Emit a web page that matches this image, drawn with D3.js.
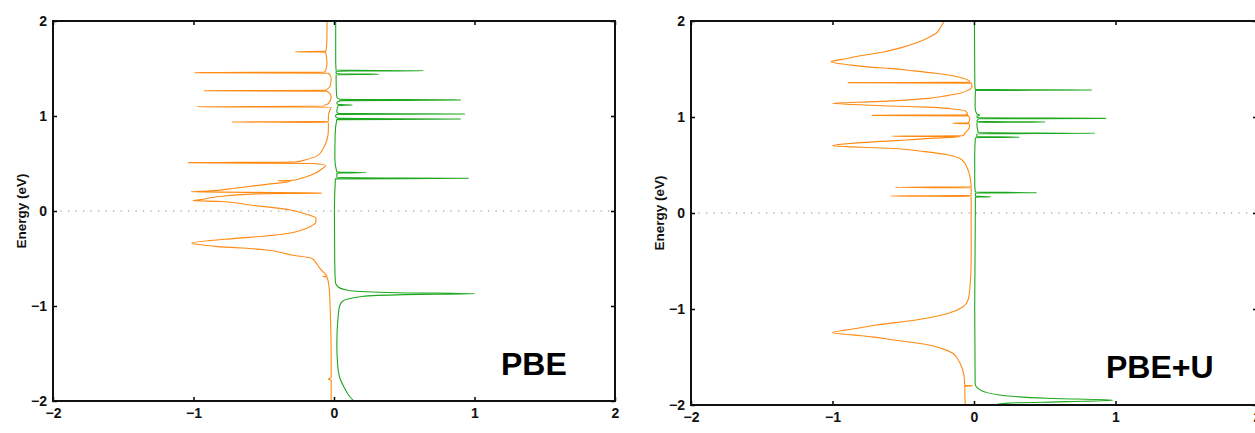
<!DOCTYPE html>
<html>
<head>
<meta charset="utf-8">
<script src="https://cdn.jsdelivr.net/npm/d3@7"></script>
<style>
  body { margin: 0; background: #fff; }
  svg text { font-family: "Liberation Sans", Arial, sans-serif; font-weight: bold; }
</style>
</head>
<body>
<svg id="chart" width="1255" height="433"></svg>
<script>
// energies on y, density of states on x ( [energy, dos] )
var ticks = [-2, -1, 0, 1, 2];
var yTitle = "Energy (eV)";
var panelNames = ["PBE", "PBE+U"];

// PBE, spin down (orange)
var pbeDown = [
  [2.00,-0.05],[1.85,-0.05],[1.70,-0.055],
  [1.682,-0.06],[1.677,-0.277],[1.672,-0.06],
  [1.55,-0.05],[1.48,-0.06],
  [1.462,-0.07],[1.456,-0.99],[1.450,-0.04],
  [1.40,-0.02],[1.32,-0.025],[1.28,-0.05],
  [1.270,-0.06],[1.266,-0.923],[1.261,-0.05],
  [1.20,-0.02],[1.13,-0.04],[1.110,-0.07],
  [1.102,-0.07],[1.098,-0.975],[1.093,-0.02],
  [1.06,-0.03],[1.00,-0.04],
  [0.942,-0.04],[0.937,-0.728],[0.932,-0.04],
  [0.85,-0.04],[0.75,-0.05],[0.65,-0.08],[0.58,-0.12],[0.54,-0.2],
  [0.515,-0.28],[0.509,-1.037],[0.500,-0.15],
  [0.48,-0.06],[0.44,-0.09],[0.40,-0.13],[0.35,-0.22],
  [0.324,-0.29],[0.319,-0.40],[0.314,-0.31],
  [0.28,-0.48],[0.24,-0.71],[0.21,-0.9],[0.203,-1.017],[0.196,-0.6],
  [0.188,-0.09],[0.183,-0.5],
  [0.15,-0.83],[0.12,-0.95],[0.109,-1.006],[0.10,-0.8],
  [0.063,-0.6],[0.03,-0.4],[0.011,-0.31],[-0.024,-0.22],[-0.077,-0.128],[-0.12,-0.13],
  [-0.165,-0.17],[-0.20,-0.23],[-0.235,-0.32],[-0.265,-0.5],[-0.288,-0.7],[-0.34,-1.013],
  [-0.36,-0.92],[-0.375,-0.83],[-0.39,-0.65],
  [-0.411,-0.48],[-0.44,-0.37],[-0.463,-0.3],[-0.498,-0.16],[-0.54,-0.13],[-0.586,-0.11],[-0.68,-0.053],
  [-0.685,-0.05],[-0.69,-0.08],[-0.695,-0.05],
  [-0.8,-0.035],[-1.0,-0.028],[-1.3,-0.022],[-1.6,-0.02],[-1.75,-0.02],
  [-1.77,-0.04],[-1.78,-0.02],[-2.0,-0.02]
];

// PBE, spin up (green)
var pbeUp = [
  [2.0,0.012],[1.6,0.012],[1.50,0.014],
  [1.482,0.015],[1.477,0.636],[1.472,0.015],
  [1.444,0.015],[1.439,0.32],[1.434,0.015],
  [1.30,0.016],[1.20,0.02],
  [1.176,0.04],[1.168,0.90],[1.162,0.05],
  [1.14,0.02],
  [1.121,0.03],[1.116,0.13],[1.111,0.03],
  [1.05,0.02],
  [1.026,0.03],[1.021,0.93],[1.016,0.02],
  [1.0,0.01],
  [0.975,0.03],[0.968,0.90],[0.962,0.02],
  [0.80,0.008],[0.55,0.006],
  [0.41,0.02],[0.404,0.23],[0.398,0.02],
  [0.352,0.02],[0.344,0.957],[0.338,0.01],
  [0.0,0.003],[-0.5,0.005],[-0.75,0.01],[-0.80,0.03],[-0.84,0.12],[-0.86,0.45],
  [-0.872,1.0],[-0.88,0.5],[-0.90,0.2],[-0.95,0.06],[-1.0,0.04],[-1.1,0.03],[-1.4,0.02],
  [-1.6,0.025],[-1.75,0.04],[-1.85,0.07],[-1.95,0.11],[-2.0,0.14]
];

// PBE+U, spin down (orange)
var pbeuDown = [
  [2.0,-0.21],[1.95,-0.23],[1.87,-0.27],[1.82,-0.33],[1.77,-0.41],[1.72,-0.52],
  [1.68,-0.63],[1.63,-0.83],[1.60,-0.93],[1.576,-1.01],
  [1.54,-0.86],[1.52,-0.74],[1.507,-0.60],[1.48,-0.42],[1.455,-0.27],[1.43,-0.15],
  [1.40,-0.07],[1.368,-0.03],
  [1.362,-0.03],[1.358,-0.89],[1.353,-0.02],
  [1.316,-0.014],[1.28,-0.04],[1.247,-0.10],[1.22,-0.2],[1.194,-0.32],[1.16,-0.69],
  [1.142,-1.0],[1.13,-0.85],
  [1.115,-0.60],[1.10,-0.29],[1.08,-0.13],[1.056,-0.056],
  [1.022,-0.045],[1.017,-0.72],[1.012,-0.04],
  [0.98,-0.03],
  [0.939,-0.04],[0.934,-0.15],[0.929,-0.03],
  [0.88,-0.035],[0.847,-0.056],
  [0.805,-0.08],[0.80,-0.58],[0.795,-0.1],
  [0.78,-0.29],[0.76,-0.48],[0.743,-0.69],[0.70,-1.0],[0.685,-0.8],[0.674,-0.60],
  [0.639,-0.35],[0.604,-0.18],[0.552,-0.084],[0.448,-0.042],[0.31,-0.022],
  [0.272,-0.02],[0.267,-0.556],[0.262,-0.02],
  [0.182,-0.02],[0.177,-0.59],[0.172,-0.02],
  [0.0,-0.02],[-0.5,-0.02],[-0.8,-0.03],[-0.906,-0.042],[-0.98,-0.08],
  [-1.045,-0.18],[-1.08,-0.28],[-1.115,-0.41],[-1.167,-0.69],[-1.20,-0.82],[-1.22,-0.91],[-1.247,-1.0],
  [-1.27,-0.86],[-1.29,-0.72],[-1.32,-0.58],[-1.375,-0.32],[-1.41,-0.23],[-1.46,-0.15],[-1.51,-0.12],
  [-1.566,-0.098],[-1.70,-0.07],[-1.795,-0.065],[-1.80,-0.01],[-1.805,-0.065],[-2.0,-0.062]
];

// PBE+U, spin up (green)
var pbeuUp = [
  [2.0,0.003],[1.5,0.005],[1.32,0.006],
  [1.286,0.01],[1.281,0.83],[1.276,0.01],
  [1.10,0.008],[1.03,0.02],[1.02,0.04],[1.005,0.02],
  [0.991,0.03],[0.986,0.93],[0.981,0.03],
  [0.953,0.02],[0.948,0.505],[0.943,0.02],
  [0.836,0.03],[0.83,0.857],[0.825,0.02],
  [0.795,0.02],[0.79,0.32],[0.785,0.01],
  [0.6,0.005],[0.3,0.005],
  [0.217,0.01],[0.212,0.444],[0.207,0.01],
  [0.175,0.01],[0.17,0.118],[0.165,0.01],
  [-1.0,0.005],[-1.775,0.008],[-1.84,0.04],[-1.896,0.18],[-1.93,0.52],
  [-1.95,0.98],[-1.965,0.66],[-1.98,0.24],[-2.0,0.15],[-2.05,0.1]
];

var svg = d3.select("#chart");

function drawPanel(id, box, down, up, name, labelX) {
  var x = d3.scaleLinear().domain([-2, 2]).range([box.left, box.right]);
  var y = d3.scaleLinear().domain([-2, 2]).range([box.bottom, box.top]);
  var g = svg.append("g");

  g.append("clipPath").attr("id", id)
    .append("rect")
    .attr("x", box.left).attr("y", box.top)
    .attr("width", box.right - box.left).attr("height", box.bottom - box.top);

  // zero line
  g.append("line")
    .attr("x1", box.left).attr("x2", box.right)
    .attr("y1", y(0)).attr("y2", y(0))
    .attr("stroke", "#888").attr("stroke-width", 1.2)
    .attr("stroke-dasharray", "1.2,6.3");

  var line = d3.line()
    .x(function(d){ return x(d[1]); })
    .y(function(d){ return y(d[0]); })
    .curve(d3.curveMonotoneY);

  g.append("path").datum(down)
    .attr("clip-path", "url(#" + id + ")")
    .attr("d", line).attr("fill", "none")
    .attr("stroke", "#ff8a14").attr("stroke-width", 1.1);
  g.append("path").datum(up)
    .attr("clip-path", "url(#" + id + ")")
    .attr("d", line).attr("fill", "none")
    .attr("stroke", "#1fa81f").attr("stroke-width", 1.1);

  // axes, ticks pointing inward
  g.append("g").attr("transform", "translate(" + box.left + ",0)")
    .call(d3.axisLeft(y).tickValues(ticks).tickFormat(d3.format("d"))
      .tickSizeInner(-4).tickSizeOuter(0).tickPadding(6));
  g.append("g").attr("transform", "translate(0," + box.bottom + ")")
    .call(d3.axisBottom(x).tickValues(ticks).tickFormat(d3.format("d"))
      .tickSizeInner(-4).tickSizeOuter(0).tickPadding(7));
  g.append("g").attr("transform", "translate(" + box.right + ",0)")
    .call(d3.axisRight(y).tickValues(ticks).tickFormat("")
      .tickSizeInner(-4).tickSizeOuter(0));
  g.append("g").attr("transform", "translate(0," + box.top + ")")
    .call(d3.axisTop(x).tickValues(ticks).tickFormat("")
      .tickSizeInner(-4).tickSizeOuter(0));

  g.selectAll(".domain").remove();
  g.selectAll(".tick line").attr("stroke", "#000").attr("stroke-width", 1.5);
  g.selectAll(".tick text").attr("font-size", 14).attr("fill", "#111")
    .style("font-family", "'Liberation Sans', Arial, sans-serif").style("font-weight", "bold");

  g.append("rect")
    .attr("x", box.left).attr("y", box.top)
    .attr("width", box.right - box.left).attr("height", box.bottom - box.top)
    .attr("fill", "none").attr("stroke", "#111").attr("stroke-width", 2);

  g.append("text")
    .attr("transform", "translate(" + labelX + "," + y(0) + ") rotate(-90)")
    .attr("text-anchor", "middle").attr("dy", "0.35em")
    .attr("font-size", 13.5).attr("fill", "#111")
    .text(yTitle);

  g.append("text")
    .attr("x", box.nameX).attr("y", box.nameY)
    .attr("font-size", 32).attr("fill", "#000")
    .text(name);
}

drawPanel("clipA", {left: 53, right: 615, top: 21, bottom: 401, nameX: 501, nameY: 375},
  pbeDown, pbeUp, panelNames[0], 21);
drawPanel("clipB", {left: 691, right: 1257, top: 21, bottom: 405, nameX: 1106, nameY: 378},
  pbeuDown, pbeuUp, panelNames[1], 659);
</script>
</body>
</html>
